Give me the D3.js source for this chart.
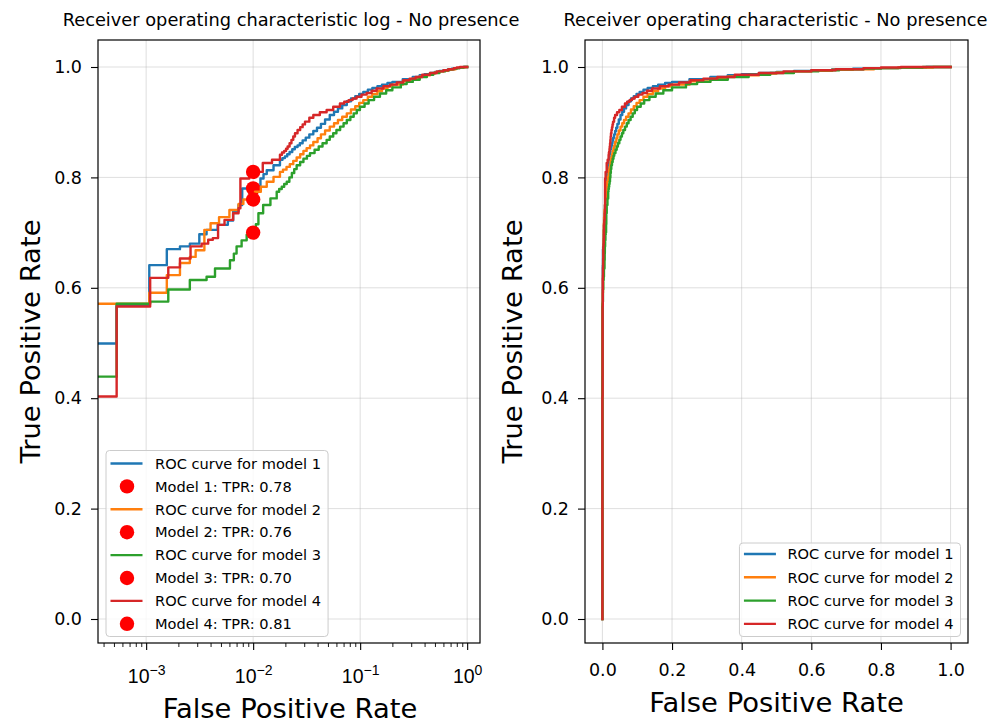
<!DOCTYPE html>
<html>
<head>
<meta charset="utf-8">
<script src="https://cdn.jsdelivr.net/npm/d3@7"></script>
<style>
  html, body { margin: 0; padding: 0; background: #fff; }
  svg { display: block; font-family: "DejaVu Sans", sans-serif; }
</style>
</head>
<body>
<svg id="chart" width="992" height="725"></svg>
<script>
// ---- data -------------------------------------------------------------
const modelNames  = ["model 1", "model 2", "model 3", "model 4"];
const modelColors = ["#1f77b4", "#ff7f0e", "#2ca02c", "#d62728"];

// ROC points [FPR, TPR] for each model (corner points of the staircase)
const rocModel1 = [[0,0],[0,0.499],[5.3e-4,0.568],[1.07e-3,0.641],[1.56e-3,0.670],[2.07e-3,0.675],
  [2.56e-3,0.680],[3.14e-3,0.697],[3.67e-3,0.705],[4.66e-3,0.714],[5.8e-3,0.722],[6.5e-3,0.738],
  [7.3e-3,0.750],[7.9e-3,0.780],[0.0117,0.798],[0.0125,0.806],[0.0134,0.813],[0.0155,0.822],
  [0.0178,0.832],[0.0188,0.835],[0.0198,0.838],[0.0208,0.842],[0.0219,0.846],[0.0232,0.851],
  [0.0245,0.855],[0.026,0.858],[0.0273,0.862],[0.029,0.867],[0.031,0.872],[0.0335,0.878],
  [0.0365,0.884],[0.0395,0.890],[0.043,0.897],[0.047,0.905],[0.052,0.913],[0.057,0.919],
  [0.062,0.925],[0.068,0.931],[0.075,0.938],[0.082,0.943],[0.09,0.947],[0.098,0.951],
  [0.107,0.955],[0.118,0.959],[0.13,0.962],[0.145,0.965],[0.16,0.968],[0.18,0.971],[0.2,0.973],
  [0.25,0.978],[0.31,0.982],[0.36,0.985],[0.4,0.987],[0.45,0.989],[0.5,0.991],[0.55,0.993],
  [0.6,0.994],[0.66,0.996],[0.72,0.997],[0.78,0.998],[0.85,0.999],[0.93,1.0],[1.0,1.0]];

const rocModel2 = [[0,0],[0,0.571],[1.07e-3,0.591],[1.56e-3,0.623],[2.07e-3,0.645],[2.56e-3,0.656],
  [2.9e-3,0.668],[3.5e-3,0.705],[4.0e-3,0.717],[4.8e-3,0.728],[6.0e-3,0.741],[7.3e-3,0.752],
  [8.1e-3,0.760],[0.0104,0.774],[0.0118,0.783],[0.0134,0.792],[0.0155,0.801],[0.0178,0.810],
  [0.019,0.814],[0.0205,0.819],[0.022,0.824],[0.0237,0.830],[0.0255,0.836],[0.0275,0.842],
  [0.0295,0.848],[0.0316,0.853],[0.034,0.858],[0.0365,0.864],[0.040,0.871],[0.043,0.878],
  [0.047,0.885],[0.052,0.892],[0.057,0.898],[0.062,0.904],[0.068,0.910],[0.075,0.916],
  [0.082,0.923],[0.09,0.929],[0.098,0.935],[0.107,0.940],[0.118,0.946],[0.13,0.951],
  [0.145,0.956],[0.16,0.961],[0.18,0.965],[0.2,0.968],[0.25,0.974],[0.31,0.979],[0.36,0.983],
  [0.4,0.985],[0.45,0.988],[0.5,0.990],[0.55,0.992],[0.6,0.993],[0.66,0.995],[0.72,0.996],
  [0.78,0.998],[0.85,0.999],[0.95,1.0],[1.0,1.0]];

const rocModel3 = [[0,0],[0,0.439],[5.3e-4,0.571],[1.09e-3,0.575],[1.61e-3,0.597],[2.56e-3,0.614],
  [3.67e-3,0.620],[4.4e-3,0.635],[6.07e-3,0.650],[6.6e-3,0.662],[7.0e-3,0.675],[7.8e-3,0.686],
  [8.7e-3,0.696],[9.6e-3,0.700],[0.0106,0.715],[0.0112,0.735],[0.0124,0.750],[0.0145,0.762],
  [0.0166,0.774],[0.0175,0.779],[0.0185,0.783],[0.0195,0.788],[0.0206,0.792],[0.0218,0.800],
  [0.023,0.808],[0.0242,0.815],[0.0255,0.822],[0.0275,0.828],[0.0295,0.834],[0.0318,0.839],
  [0.034,0.844],[0.0375,0.850],[0.041,0.856],[0.0445,0.862],[0.0486,0.868],[0.052,0.874],
  [0.056,0.880],[0.060,0.886],[0.065,0.892],[0.070,0.898],[0.075,0.904],[0.081,0.910],
  [0.087,0.916],[0.093,0.922],[0.0995,0.928],[0.11,0.934],[0.12,0.940],[0.135,0.946],
  [0.153,0.952],[0.175,0.958],[0.2,0.963],[0.24,0.969],[0.272,0.973],[0.31,0.977],[0.36,0.982],
  [0.42,0.986],[0.482,0.989],[0.55,0.992],[0.62,0.994],[0.68,0.996],[0.75,0.997],[0.8,0.998],
  [0.857,0.999],[0.92,1.0],[1.0,1.0]];

const rocModel4 = [[0,0],[0,0.403],[5.3e-4,0.566],[1.09e-3,0.618],[1.61e-3,0.637],[2.07e-3,0.653],
  [2.6e-3,0.675],[3.3e-3,0.680],[3.8e-3,0.687],[4.2e-3,0.690],[4.7e-3,0.714],[5.4e-3,0.723],
  [6.5e-3,0.735],[7.3e-3,0.744],[7.6e-3,0.798],[9.2e-3,0.810],[0.0123,0.826],[0.015,0.832],
  [0.0178,0.841],[0.0186,0.845],[0.0195,0.848],[0.0203,0.852],[0.021,0.856],[0.0219,0.862],
  [0.0228,0.868],[0.0237,0.874],[0.0246,0.880],[0.026,0.886],[0.0275,0.891],[0.029,0.896],
  [0.0305,0.901],[0.0335,0.908],[0.0365,0.913],[0.042,0.918],[0.0486,0.922],[0.056,0.928],
  [0.0647,0.934],[0.071,0.937],[0.078,0.940],[0.085,0.943],[0.0927,0.946],[0.103,0.950],
  [0.115,0.953],[0.128,0.957],[0.1426,0.961],[0.165,0.965],[0.19,0.968],[0.22,0.972],
  [0.253,0.976],[0.29,0.979],[0.33,0.982],[0.38,0.986],[0.449,0.989],[0.52,0.992],[0.6,0.994],
  [0.67,0.996],[0.75,0.998],[0.8,0.999],[0.857,1.0],[1.0,1.0]];

// operating point of each model at FPR = 1%
const thresholdFpr = 0.01;
const thresholdTpr = [0.78, 0.76, 0.70, 0.81];

// ticks
const yTicks = [0, 0.2, 0.4, 0.6, 0.8, 1.0];
const logTickExponents = [-3, -2, -1, 0];
const linearXTicks = [0, 0.2, 0.4, 0.6, 0.8, 1.0];

const titles = ["Receiver operating characteristic log - No presence",
                "Receiver operating characteristic - No presence"];
const xLabel = "False Positive Rate";
const yLabel = "True Positive Rate";

// ---- layout -----------------------------------------------------------
const rocs = [rocModel1, rocModel2, rocModel3, rocModel4];
const svg = d3.select("#chart");
const plotTop = 40, plotBottom = 643;
const tickFont = 17.5, legendFont = 14.6, labelFont = 27.4, titleFont = 17.8;
const minus = "\u2212";

const y = d3.scaleLinear().domain([0, 1]).range([619, 67]);

const xLog = d3.scaleLog().domain([Math.pow(10, -3.45), Math.pow(10, 0.12)]).range([98, 480]);
const xLin = d3.scaleLinear().domain([-0.05, 1.05]).range([585, 968]);

const defs = svg.append("defs");

function panel(id, x0, x1) {
  const g = svg.append("g");
  defs.append("clipPath").attr("id", id).append("rect")
    .attr("x", x0).attr("y", plotTop).attr("width", x1 - x0).attr("height", plotBottom - plotTop);
  return g;
}

function styleAxis(sel) {
  sel.select(".domain").remove();
  sel.selectAll(".tick line").attr("stroke", "#000").attr("stroke-width", 1.1);
  sel.selectAll(".tick text").attr("fill", "#000")
    .style("font-size", tickFont + "px").style("font-family", "DejaVu Sans, sans-serif");
}

function grid(g, xs, xVals, x0, x1) {
  const gg = g.append("g").attr("stroke", "#b0b0b0").attr("stroke-opacity", 0.42).attr("stroke-width", 1);
  gg.selectAll("line.v").data(xVals).join("line").attr("class", "v")
    .attr("x1", d => xs(d)).attr("x2", d => xs(d)).attr("y1", plotTop).attr("y2", plotBottom);
  gg.selectAll("line.h").data(yTicks).join("line").attr("class", "h")
    .attr("x1", x0).attr("x2", x1).attr("y1", d => y(d)).attr("y2", d => y(d));
}

function frame(g, x0, x1) {
  g.append("rect").attr("x", x0).attr("y", plotTop).attr("width", x1 - x0).attr("height", plotBottom - plotTop)
    .attr("fill", "none").attr("stroke", "#000").attr("stroke-width", 1.2);
}

function legend(g, items, opt) {
  const lg = g.append("g");
  const box = lg.append("rect");
  const rows = lg.selectAll("g.row").data(items).join("g").attr("class", "row");
  let maxW = 0;
  rows.each(function (d, i) {
    const r = d3.select(this);
    const cy = opt.firstRow + i * opt.rowStep;
    const tx = r.append("text").text(d.label)
      .attr("y", cy).attr("dy", "0.36em")
      .style("font-size", legendFont + "px").attr("fill", "#000");
    maxW = Math.max(maxW, tx.node().getComputedTextLength());
    d._cy = cy;
  });
  const width = (opt.textOffset + maxW + 7);
  const x0 = opt.right !== undefined ? opt.right - width : opt.left;
  rows.each(function (d) {
    const r = d3.select(this);
    r.select("text").attr("x", x0 + opt.textOffset);
    if (d.kind === "line") {
      r.append("line").attr("x1", x0 + 4.5).attr("x2", x0 + 36.5)
        .attr("y1", d._cy).attr("y2", d._cy)
        .attr("stroke", d.color).attr("stroke-width", 2.4);
    } else {
      r.append("circle").attr("cx", x0 + 21).attr("cy", d._cy).attr("r", 7.2).attr("fill", d.color);
    }
  });
  box.attr("x", x0).attr("y", opt.top).attr("width", width).attr("height", opt.bottom - opt.top)
    .attr("rx", 3.5).attr("fill", "#fff").attr("fill-opacity", 0.8)
    .attr("stroke", "#cccccc").attr("stroke-width", 1);
}

// ---- left panel: log-scaled FPR ------------------------------------------
{
  const x0 = 98, x1 = 480;
  const g = panel("clipLog", x0, x1);
  const majors = logTickExponents.map(e => Math.pow(10, e));
  grid(g, xLog, majors, x0, x1);

  // zero FPR lies at -infinity on a log axis; clamp it far off the left edge
  const tinyFpr = 1e-6;
  const lineLog = d3.line()
    .x(d => xLog(Math.max(d[0], tinyFpr))).y(d => y(d[1]))
    .curve(d3.curveStepAfter);

  const plot = g.append("g").attr("clip-path", "url(#clipLog)");
  rocs.forEach((roc, i) => {
    plot.append("path").datum(roc).attr("d", lineLog)
      .attr("fill", "none").attr("stroke", modelColors[i]).attr("stroke-width", 2.4)
      .attr("stroke-linejoin", "round").attr("stroke-linecap", "square");
    plot.append("circle").attr("cx", xLog(thresholdFpr)).attr("cy", y(thresholdTpr[i]))
      .attr("r", 7.2).attr("fill", "#ff0000");
  });

  frame(g, x0, x1);

  // y axis
  const ya = g.append("g").attr("transform", `translate(${x0},0)`)
    .call(d3.axisLeft(y).tickValues(yTicks).tickSize(7).tickPadding(9).tickFormat(d3.format(".1f")));
  styleAxis(ya);

  // x axis: minor ticks
  const minors = [];
  for (let e = -4; e <= 0; e++) for (let k = 2; k <= 9; k++) {
    const v = k * Math.pow(10, e);
    if (v >= xLog.domain()[0] && v <= xLog.domain()[1]) minors.push(v);
  }
  const xm = g.append("g").attr("transform", `translate(0,${plotBottom})`)
    .call(d3.axisBottom(xLog).tickValues(minors).tickSize(4).tickFormat(""));
  styleAxis(xm);
  xm.selectAll(".tick line").attr("stroke-width", 0.9);

  // x axis: majors with power-of-ten labels
  const xa = g.append("g").attr("transform", `translate(0,${plotBottom})`)
    .call(d3.axisBottom(xLog).tickValues(majors).tickSize(7).tickFormat(""));
  styleAxis(xa);
  xa.selectAll(".tick").each(function (v, i) {
    const e = logTickExponents[i];
    const t = d3.select(this).append("text")
      .attr("y", 683 - plotBottom).attr("text-anchor", "middle").attr("fill", "#000")
      .style("font-size", "19.5px");
    t.append("tspan").text("10");
    t.append("tspan").text(e < 0 ? minus + Math.abs(e) : String(e))
      .attr("dy", -8.5).style("font-size", "14px");
  });

  // labels
  g.append("text").text(titles[0]).attr("x", (x0 + x1) / 2 + 2).attr("y", 26)
    .attr("text-anchor", "middle").style("font-size", titleFont + "px").attr("fill", "#000");
  g.append("text").text(xLabel).attr("x", (x0 + x1) / 2 + 1).attr("y", 718)
    .attr("text-anchor", "middle").style("font-size", labelFont + "px").attr("fill", "#000");
  g.append("text").text(yLabel).attr("transform", `translate(40,${(plotTop + plotBottom) / 2}) rotate(-90)`)
    .attr("text-anchor", "middle").style("font-size", labelFont + "px").attr("fill", "#000");

  const items = [];
  rocs.forEach((roc, i) => {
    items.push({ kind: "line", color: modelColors[i], label: "ROC curve for " + modelNames[i] });
    items.push({ kind: "dot", color: "#ff0000",
      label: "Model " + (i + 1) + ": TPR: " + thresholdTpr[i].toFixed(2) });
  });
  legend(g, items, { left: 106, top: 450.5, bottom: 636.5, firstRow: 463.5, rowStep: 22.9, textOffset: 49 });
}

// ---- right panel: linear FPR -------------------------------------------------
{
  const x0 = 585, x1 = 968;
  const g = panel("clipLin", x0, x1);
  grid(g, xLin, linearXTicks, x0, x1);

  const lineLin = d3.line().x(d => xLin(d[0])).y(d => y(d[1])).curve(d3.curveStepAfter);
  const plot = g.append("g").attr("clip-path", "url(#clipLin)");
  rocs.forEach((roc, i) => {
    plot.append("path").datum(roc).attr("d", lineLin)
      .attr("fill", "none").attr("stroke", modelColors[i]).attr("stroke-width", 2.4)
      .attr("stroke-linejoin", "round").attr("stroke-linecap", "square");
  });

  frame(g, x0, x1);

  const ya = g.append("g").attr("transform", `translate(${x0},0)`)
    .call(d3.axisLeft(y).tickValues(yTicks).tickSize(7).tickPadding(9).tickFormat(d3.format(".1f")));
  styleAxis(ya);
  const xa = g.append("g").attr("transform", `translate(0,${plotBottom})`)
    .call(d3.axisBottom(xLin).tickValues(linearXTicks).tickSize(7).tickPadding(14).tickFormat(d3.format(".1f")));
  styleAxis(xa);

  g.append("text").text(titles[1]).attr("x", (x0 + x1) / 2 - 1).attr("y", 26)
    .attr("text-anchor", "middle").style("font-size", titleFont + "px").attr("fill", "#000");
  g.append("text").text(xLabel).attr("x", (x0 + x1) / 2).attr("y", 711.5)
    .attr("text-anchor", "middle").style("font-size", labelFont + "px").attr("fill", "#000");
  g.append("text").text(yLabel).attr("transform", `translate(522,${(plotTop + plotBottom) / 2}) rotate(-90)`)
    .attr("text-anchor", "middle").style("font-size", labelFont + "px").attr("fill", "#000");

  const items = rocs.map((roc, i) => ({ kind: "line", color: modelColors[i], label: "ROC curve for " + modelNames[i] }));
  legend(g, items, { right: 960.5, top: 543, bottom: 636.5, firstRow: 554, rowStep: 23.3, textOffset: 48 });
}
</script>
</body>
</html>
